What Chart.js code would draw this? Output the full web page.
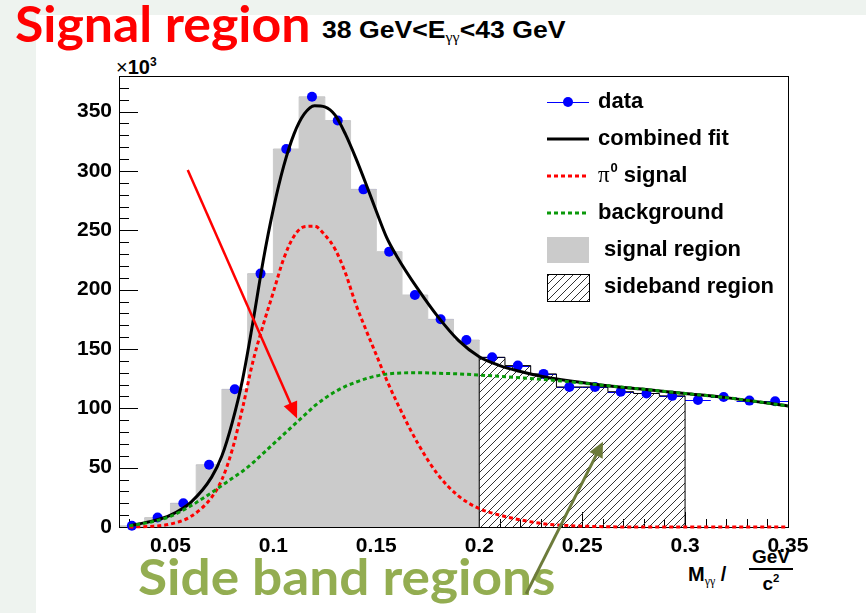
<!DOCTYPE html>
<html>
<head>
<meta charset="utf-8">
<title>pi0 signal region, 38-43 GeV</title>
<script src="https://cdn.jsdelivr.net/npm/chart.js@4.4.1/dist/chart.umd.min.js"></script>
<style>
  html, body { margin: 0; padding: 0; }
  body { background: #eef3ef; width: 866px; height: 613px; overflow: hidden; position: relative; }
  #paper { position: absolute; left: 36px; top: 15px; right: 0; bottom: 0; background: #fff; }
  .label { position: absolute; white-space: nowrap; line-height: 1; transform-origin: left top; }
  .big { font-family: "Lato", sans-serif; font-weight: bold; font-size: 49px; }
  .root { font-family: "Liberation Sans", Arial, sans-serif; font-weight: bold; color: #000; }
  .root sub { font-family: "Liberation Serif", serif; font-weight: normal; font-size: 60%; vertical-align: -4px; }
  .root sup { font-size: 60%; vertical-align: 8px; }
  .frac { display: inline-block; text-align: center; }
  .frac .den { border-top: 2px solid #000; padding-top: 3px; margin-top: 2px; width: 44px; }
  #chartBox { position: absolute; left: 0; top: 0; width: 866px; height: 613px; }
</style>
</head>
<body>
<div id="paper"></div>
<div id="signalNote" class="label big" style="left:15px; top:-1px; color:#ff0000;">Signal region</div>
<div id="sideNote" class="label big" style="left:138px; top:552px; color:#93ad51;">Side band regions</div>
<div id="plotTitle" class="label root" style="left:322px; top:19px; font-size:23px;">38 GeV&lt;E<sub>γγ</sub>&lt;43 GeV</div>
<div class="label root" style="left:116px; top:56px; font-size:20px;"><span style="font-weight:normal">×</span>10<sup>3</sup></div>
<div class="label root" style="left:688px; top:564px; font-size:20px;">M<sub>γγ</sub>&nbsp;/</div>
<div class="label root frac" style="left:749px; top:547px; font-size:19px;"><div>GeV</div><div class="den">c<sup>2</sup></div></div>
<div id="chartBox"><canvas id="massChart" width="866" height="613"></canvas></div>

<script>
// M(gamma gamma) spectrum, counts in units of 10^3 per bin
const binWidth = 0.0125;
const binCenters = [
  0.03125, 0.04375, 0.05625, 0.06875, 0.08125, 0.09375, 0.10625, 0.11875, 0.13125,
  0.14375, 0.15625, 0.16875, 0.18125, 0.19375, 0.20625, 0.21875, 0.23125, 0.24375,
  0.25625, 0.26875, 0.28125, 0.29375, 0.30625, 0.31875, 0.33125, 0.34375
];
const binCounts = [
  1, 8, 20, 52.5, 116, 213.5, 318.5, 362.5, 342.5,
  284.5, 232, 195.5, 175, 157.5, 143, 136, 129, 118,
  118, 114, 112.5, 110.5, 107, 109.5, 106.5, 106
];
const signalRange = [0.025, 0.2];
const sidebandRange = [0.2, 0.3];

// fit curves sampled along the mass axis
const fitX = [
  0.030, 0.040, 0.050, 0.060, 0.070, 0.075, 0.080, 0.085, 0.090, 0.095, 0.100, 0.105,
  0.110, 0.115, 0.120, 0.125, 0.130, 0.135, 0.140, 0.145, 0.150, 0.155, 0.160, 0.170,
  0.180, 0.190, 0.200, 0.210, 0.220, 0.230, 0.240, 0.260, 0.280, 0.300, 0.320, 0.350
];
const fitTotal = [
  1, 4.5, 10, 21, 42, 60, 88, 124, 172, 224, 268, 304,
  331, 348, 355, 354, 347, 331, 311, 289, 266, 244, 228, 201,
  177, 157, 143.5, 136, 131, 127, 124, 119.5, 116, 112.5, 109, 102
];
const fitSignal = [
  0, 0.5, 2.5, 9, 25, 40, 65, 100, 139, 170, 198, 226,
  245, 253, 253.5, 246, 234, 214, 188, 166, 145, 124, 105, 71,
  44, 26, 15.5, 10, 6, 3, 1.5, 0.3, 0, 0, 0, 0
];
const fitBackground = [
  1, 4, 9, 18, 29, 35, 41, 47, 54, 62, 70, 78,
  86, 94, 102, 108.5, 114, 118.5, 122, 125, 127.3, 128.8, 129.6, 130,
  129.5, 129, 128, 127, 125.8, 124.5, 123, 119.5, 116, 112.5, 109, 102
];

const xTickLabels = ["0.05", "0.1", "0.15", "0.2", "0.25", "0.3", "0.35"];
const yTickLabels = ["0", "50", "100", "150", "200", "250", "300", "350"];

const ROOT_FONT = '"Liberation Sans", Arial, sans-serif';

function squeezeTo(id, width) {
  const el = document.getElementById(id);
  el.style.transform = "scaleX(" + (width / el.offsetWidth) + ")";
}
squeezeTo("signalNote", 296);
squeezeTo("sideNote", 418);
squeezeTo("plotTitle", 243);

function toXY(xs, ys) {
  return xs.map((x, i) => ({ x: x, y: ys[i] }));
}

// step outline of the bins inside [lo, hi], closed down to zero at both ends
function histSteps(lo, hi) {
  const pts = [{ x: lo, y: 0 }];
  binCenters.forEach((c, i) => {
    const edge = c - binWidth / 2;
    if (edge >= lo - 1e-9 && edge < hi - 1e-9) pts.push({ x: edge, y: binCounts[i] });
  });
  pts.push({ x: hi, y: pts[pts.length - 1].y });
  pts.push({ x: hi, y: 0 });
  return pts;
}

function hatchPattern() {
  const c = document.createElement("canvas");
  c.width = 8;
  c.height = 8;
  const g = c.getContext("2d");
  g.strokeStyle = "#333";
  g.lineWidth = 1;
  g.beginPath();
  g.moveTo(0, 8); g.lineTo(8, 0);
  g.moveTo(-1, 1); g.lineTo(1, -1);
  g.moveTo(7, 9); g.lineTo(9, 7);
  g.stroke();
  return g.createPattern(c, "repeat");
}
const hatch = hatchPattern();

function drawArrow(ctx, x0, y0, x1, y1, color, width, head, spread) {
  const ang = Math.atan2(y1 - y0, x1 - x0);
  ctx.save();
  ctx.strokeStyle = color;
  ctx.fillStyle = color;
  ctx.lineWidth = width;
  ctx.beginPath();
  ctx.moveTo(x0, y0);
  ctx.lineTo(x1 - Math.cos(ang) * head * 0.8, y1 - Math.sin(ang) * head * 0.8);
  ctx.stroke();
  ctx.beginPath();
  ctx.moveTo(x1, y1);
  ctx.lineTo(x1 - head * Math.cos(ang - spread), y1 - head * Math.sin(ang - spread));
  ctx.lineTo(x1 - head * Math.cos(ang + spread), y1 - head * Math.sin(ang + spread));
  ctx.closePath();
  ctx.fill();
  ctx.restore();
}

// inward ROOT style ticks and the x error bars, under the histograms
const rootTicks = {
  id: "rootTicks",
  beforeDatasetsDraw(chart) {
    const { ctx, chartArea: a, scales: { x, y } } = chart;
    ctx.save();
    ctx.strokeStyle = "#000";
    ctx.lineWidth = 1;
    ctx.beginPath();
    for (let k = 3; k <= 35; k++) {
      const px = Math.round(x.getPixelForValue(k / 100)) + 0.5;
      ctx.moveTo(px, a.bottom);
      ctx.lineTo(px, a.bottom - (k % 5 === 0 ? 15 : 8));
    }
    for (let k = 0; k <= 38; k++) {
      const py = Math.round(y.getPixelForValue(k * 10)) + 0.5;
      ctx.moveTo(a.left, py);
      ctx.lineTo(a.left + (k % 5 === 0 ? 19 : 10), py);
    }
    ctx.stroke();
    ctx.strokeStyle = "#0000ff";
    ctx.beginPath();
    binCenters.forEach((c, i) => {
      const py = Math.round(y.getPixelForValue(binCounts[i])) + 0.5;
      ctx.moveTo(x.getPixelForValue(c - binWidth / 2), py);
      ctx.lineTo(Math.min(x.getPixelForValue(c + binWidth / 2), a.right), py);
    });
    ctx.stroke();
    ctx.restore();
  },
  // frame goes in just before the data markers
  beforeDatasetDraw(chart, args) {
    if (chart.data.datasets[args.index].label !== "data") return;
    const { ctx, chartArea: a } = chart;
    ctx.save();
    ctx.strokeStyle = "#000";
    ctx.lineWidth = 1;
    ctx.strokeRect(Math.round(a.left) + 0.5, Math.round(a.top) + 0.5,
      Math.round(a.right - a.left), Math.round(a.bottom - a.top));
    ctx.restore();
  }
};

const rootLegend = {
  id: "rootLegend",
  afterDatasetsDraw(chart) {
    const { ctx, chartArea: a } = chart;
    const x0 = a.right - 241, x1 = a.right - 199, tx = a.right - 190;
    const rowY = (i) => a.top + 26 + i * 37;
    const boldFont = "bold 22px " + ROOT_FONT;
    ctx.save();
    ctx.textBaseline = "middle";
    ctx.fillStyle = "#000";

    // data
    ctx.strokeStyle = "#0000ff";
    ctx.lineWidth = 1;
    ctx.beginPath();
    ctx.moveTo(x0, rowY(0) + 0.5);
    ctx.lineTo(x1, rowY(0) + 0.5);
    ctx.stroke();
    ctx.fillStyle = "#0000ff";
    ctx.beginPath();
    ctx.arc((x0 + x1) / 2, rowY(0), 5, 0, Math.PI * 2);
    ctx.fill();

    // fit curves
    const lines = [
      { c: "#000000", dash: [] },
      { c: "#ff0000", dash: [4, 3] },
      { c: "#0a990a", dash: [4, 3] }
    ];
    lines.forEach((l, i) => {
      ctx.strokeStyle = l.c;
      ctx.lineWidth = 3;
      ctx.setLineDash(l.dash);
      ctx.beginPath();
      ctx.moveTo(x0, rowY(i + 1));
      ctx.lineTo(x1, rowY(i + 1));
      ctx.stroke();
    });
    ctx.setLineDash([]);

    // region boxes
    ctx.fillStyle = "#cbcbcb";
    ctx.fillRect(x0, rowY(4) - 13, x1 - x0, 26);
    ctx.fillStyle = hatch;
    ctx.fillRect(x0, rowY(5) - 13, x1 - x0, 27);
    ctx.strokeStyle = "#000";
    ctx.lineWidth = 1;
    ctx.strokeRect(x0 + 0.5, rowY(5) - 12.5, x1 - x0, 27);

    ctx.fillStyle = "#000";
    ctx.font = boldFont;
    ctx.fillText("data", tx, rowY(0));
    ctx.fillText("combined fit", tx, rowY(1));
    ctx.font = "23px \"Liberation Serif\", serif";
    ctx.fillText("π", tx, rowY(2));
    const piW = ctx.measureText("π").width;
    ctx.font = "bold 13px " + ROOT_FONT;
    ctx.fillText("0", tx + piW + 1, rowY(2) - 8);
    ctx.font = boldFont;
    ctx.fillText(" signal", tx + piW + 8, rowY(2));
    ctx.fillText("background", tx, rowY(3));
    ctx.fillText(" signal region", tx, rowY(4));
    ctx.fillText(" sideband region", tx, rowY(5));
    ctx.restore();
  }
};

// annotation arrows, placed in data coordinates
const rootArrows = {
  id: "rootArrows",
  afterDraw(chart) {
    const { ctx, scales: { x, y } } = chart;
    drawArrow(ctx, x.getPixelForValue(0.0584), y.getPixelForValue(300.8),
      x.getPixelForValue(0.1115), y.getPixelForValue(91.5), "#ff0000", 2.5, 18, 0.42);
    drawArrow(ctx, x.getPixelForValue(0.2228), y.getPixelForValue(-56.4),
      x.getPixelForValue(0.2601), y.getPixelForValue(71.8), "#6d7b3b", 3, 17, 0.45);
  }
};

const tickFont = { family: ROOT_FONT, size: 21, weight: "bold" };

const massChart = new Chart(document.getElementById("massChart"), {
  type: "line",
  data: {
    datasets: [
      {
        label: "signal region",
        data: histSteps(signalRange[0], signalRange[1]),
        stepped: true,
        fill: "origin",
        backgroundColor: "#cbcbcb",
        borderColor: "#cbcbcb",
        borderWidth: 1,
        pointRadius: 0,
        order: 6
      },
      {
        label: "sideband region",
        data: histSteps(sidebandRange[0], sidebandRange[1]),
        stepped: true,
        fill: "origin",
        backgroundColor: hatch,
        borderColor: "#000",
        borderWidth: 1,
        pointRadius: 0,
        order: 5
      },
      {
        label: "data",
        data: toXY(binCenters, binCounts),
        showLine: false,
        pointRadius: 5,
        pointBackgroundColor: "#0000ff",
        pointBorderWidth: 0,
        clip: 8,
        order: 4
      },
      {
        label: "combined fit",
        data: toXY(fitX, fitTotal),
        borderColor: "#000",
        borderWidth: 3,
        cubicInterpolationMode: "monotone",
        pointRadius: 0,
        clip: 4,
        order: 3
      },
      {
        label: "π0 signal",
        data: toXY(fitX, fitSignal),
        borderColor: "#ff0000",
        borderWidth: 3,
        borderDash: [4, 3],
        cubicInterpolationMode: "monotone",
        pointRadius: 0,
        clip: 4,
        order: 2
      },
      {
        label: "background",
        data: toXY(fitX, fitBackground),
        borderColor: "#0a990a",
        borderWidth: 3,
        borderDash: [4, 3],
        cubicInterpolationMode: "monotone",
        pointRadius: 0,
        clip: 4,
        order: 1
      }
    ]
  },
  options: {
    responsive: false,
    animation: false,
    devicePixelRatio: 1,
    events: [],
    layout: { padding: { left: 0, top: 76, right: 78, bottom: 0 } },
    scales: {
      x: {
        type: "linear",
        min: 0.025,
        max: 0.35,
        grid: { display: false, drawTicks: false },
        border: { display: false },
        ticks: {
          font: tickFont,
          color: "#000",
          padding: 7,
          maxRotation: 0,
          autoSkip: false,
          callback: (v) => {
            const i = xTickLabels.findIndex((t) => Math.abs(Number(t) - v) < 1e-9);
            return i >= 0 ? xTickLabels[i] : "";
          }
        },
        afterBuildTicks: (scale) => {
          scale.ticks = xTickLabels.map((t) => ({ value: Number(t) }));
        },
        afterFit: (scale) => { scale.height = 86; }
      },
      y: {
        min: 0,
        max: 380,
        grid: { display: false, drawTicks: false },
        border: { display: false },
        ticks: {
          font: tickFont,
          color: "#000",
          padding: 7,
          callback: (v) => {
            const i = yTickLabels.findIndex((t) => Number(t) === v);
            return i >= 0 ? yTickLabels[i] : "";
          }
        },
        afterBuildTicks: (scale) => {
          scale.ticks = yTickLabels.map((t) => ({ value: Number(t) }));
        },
        afterFit: (scale) => { scale.width = 119; }
      }
    },
    plugins: {
      legend: { display: false },
      tooltip: { enabled: false }
    }
  },
  plugins: [rootTicks, rootLegend, rootArrows]
});
</script>
</body>
</html>
